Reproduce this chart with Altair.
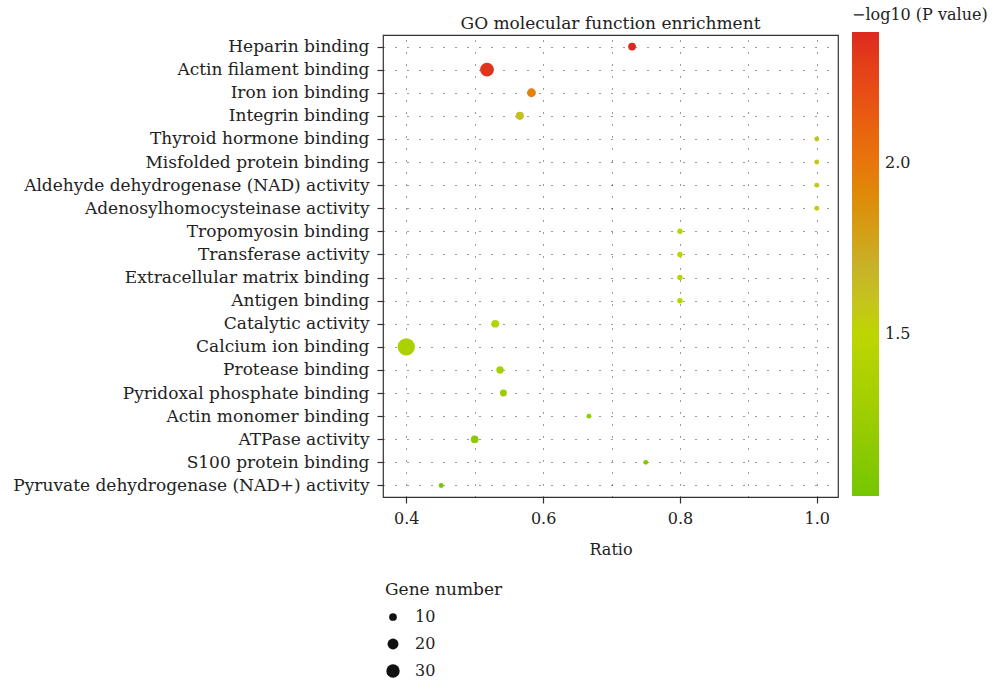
import altair as alt
import pandas as pd

terms = [
    "Heparin binding", "Actin filament binding", "Iron ion binding", "Integrin binding",
    "Thyroid hormone binding", "Misfolded protein binding",
    "Aldehyde dehydrogenase (NAD) activity", "Adenosylhomocysteinase activity",
    "Tropomyosin binding", "Transferase activity", "Extracellular matrix binding",
    "Antigen binding", "Catalytic activity", "Calcium ion binding", "Protease binding",
    "Pyridoxal phosphate binding", "Actin monomer binding", "ATPase activity",
    "S100 protein binding", "Pyruvate dehydrogenase (NAD+) activity",
]
ratio = [0.730, 0.518, 0.583, 0.566, 1.0, 1.0, 1.0, 1.0, 0.8, 0.8, 0.8, 0.8,
         0.530, 0.400, 0.537, 0.542, 0.667, 0.500, 0.750, 0.451]
neglogp = [2.38, 2.33, 1.95, 1.62, 1.59, 1.58, 1.57, 1.56, 1.48, 1.47, 1.46, 1.45,
           1.43, 1.37, 1.33, 1.26, 1.20, 1.16, 1.10, 1.03]
genes = [10, 32, 13, 11, 4, 4, 4, 4, 5, 5, 5, 5, 10, 50, 9, 8, 4, 10, 4, 4]

df = pd.DataFrame({"term": terms, "ratio": ratio, "p": neglogp, "genes": genes})

FONT = "DejaVu Serif"
grid_vals = [0.4, 0.5, 0.6, 0.7, 0.8, 0.9, 1.0]

chart = alt.Chart(df).mark_circle(opacity=1).encode(
    x=alt.X("ratio:Q", title="Ratio",
            scale=alt.Scale(domain=[0.366, 1.031], nice=False, zero=False),
            axis=alt.Axis(values=grid_vals, format=".1f",
                          labelExpr="round(datum.value*10) % 2 == 1 ? '' : format(datum.value, '.1f')",
                          tickOpacity={"condition": {"test": "round(datum.value*10) % 2 == 1", "value": 0}, "value": 1},
                          labelPadding=7, titlePadding=15)),
    y=alt.Y("term:N", sort=terms, title=None,
            axis=alt.Axis(labelPadding=8, labelLimit=0, labelFontSize=17)),
    color=alt.Color("p:Q",
                    scale=alt.Scale(domain=[1.03, 1.25, 1.5, 1.68, 1.85, 2.0, 2.2, 2.38],
                                    range=["#74c600", "#9ccd00", "#bed600", "#c6b42c",
                                           "#d9950f", "#e8760c", "#e84e14", "#dc2a1e"]),
                    legend=alt.Legend(title="\u2212log10 (P value)", orient="none",
                                      legendX=469, legendY=-28, values=[1.5, 2.0], format=".1f",
                                      gradientLength=464, gradientThickness=27,
                                      titlePadding=9, labelOffset=6, direction="vertical",
                                      gradientStrokeWidth=0, padding=0)),
    size=alt.Size("genes:Q",
                  scale=alt.Scale(domain=[0, 50], range=[0, 300], zero=True),
                  legend=alt.Legend(title="Gene number", orient="none", legendX=2, legendY=547,
                                    values=[10, 20, 30], symbolFillColor="#111",
                                    symbolStrokeWidth=0, symbolType="circle", symbolOpacity=1,
                                    titleFontSize=17,
                                    titlePadding=10, rowPadding=11, labelOffset=14, padding=0)),
).properties(
    width=455, height=462,
    title=alt.Title("GO molecular function enrichment", font=FONT, fontSize=17,
                    fontWeight="normal", color="#222", offset=8, dy=34,
                    frame="group", anchor="middle"),
    padding={"left": 383, "top": 35, "right": 157, "bottom": 187},
    autosize=alt.AutoSizeParams(type="none"),
).configure_view(
    stroke="#333", strokeWidth=1.2
).configure_axis(
    labelFont=FONT, titleFont=FONT, labelFontSize=16, titleFontSize=16,
    labelColor="#222", titleColor="#222", titleFontWeight="normal",
    domain=False, tickSize=6, tickColor="#333", tickWidth=1.2,
    grid=True, gridDash=[1, 11], gridColor="#222", gridWidth=1, gridOpacity=0.9,
).configure_legend(
    labelFont=FONT, titleFont=FONT, labelFontSize=16, titleFontSize=16,
    labelColor="#222", titleColor="#222", titleFontWeight="normal",
)

chart.save("out.html", embed_options={"renderer": "svg", "actions": False})
